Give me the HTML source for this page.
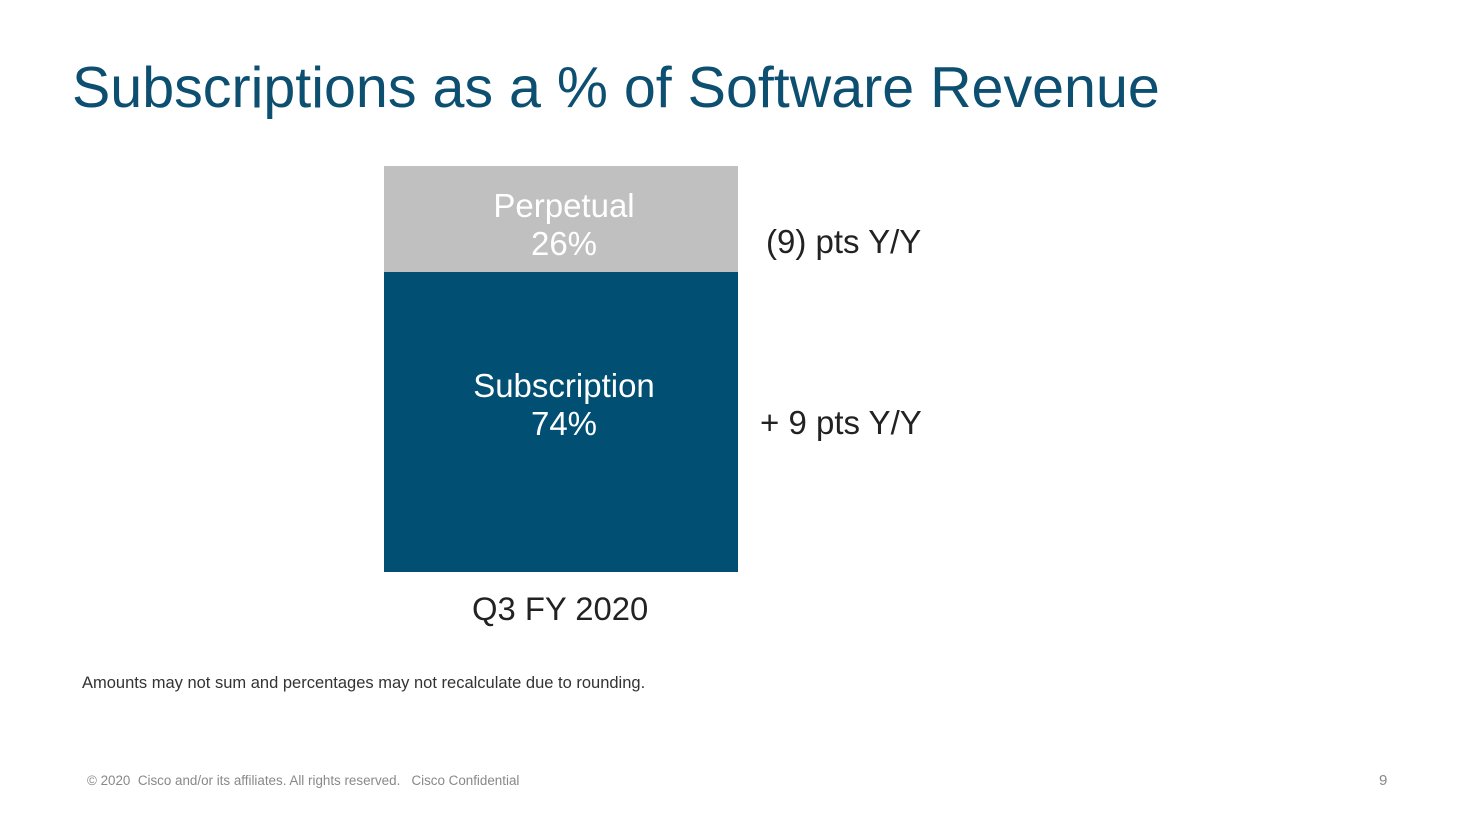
<!DOCTYPE html>
<html><head><style>
body{margin:0;width:1479px;height:832px;background:#fff;position:relative;font-family:"Liberation Sans",sans-serif;overflow:hidden}
div{position:absolute;white-space:nowrap}
</style></head><body>
<div style="left:72px;top:55px;font-size:57.4px;color:#0d4f70">Subscriptions as a % of Software Revenue</div>
<div style="left:384px;top:166px;width:354px;height:106px;background:#c0c0c0"></div>
<div style="left:384px;top:272px;width:354px;height:300px;background:#015073"></div>
<div style="left:384px;top:187px;width:360px;text-align:center;font-size:33px;line-height:38px;color:#fff">Perpetual<br>26%</div>
<div style="left:384px;top:367px;width:360px;text-align:center;font-size:33px;line-height:38px;color:#fff">Subscription<br>74%</div>
<div style="left:766px;top:223px;font-size:33px;color:#222">(9) pts Y/Y</div>
<div style="left:760px;top:404px;font-size:33px;color:#222">+ 9 pts Y/Y</div>
<div style="left:472px;top:590px;font-size:32.8px;color:#222">Q3 FY 2020</div>
<div style="left:82px;top:674px;font-size:16.5px;color:#333">Amounts may not sum and percentages may not recalculate due to rounding.</div>
<div style="left:87px;top:773px;font-size:13.4px;color:#888">© 2020 &nbsp;Cisco and/or its affiliates. All rights reserved. &nbsp;&nbsp;Cisco Confidential</div>
<div style="left:1379px;top:772px;font-size:15px;color:#888">9</div>
</body></html>
